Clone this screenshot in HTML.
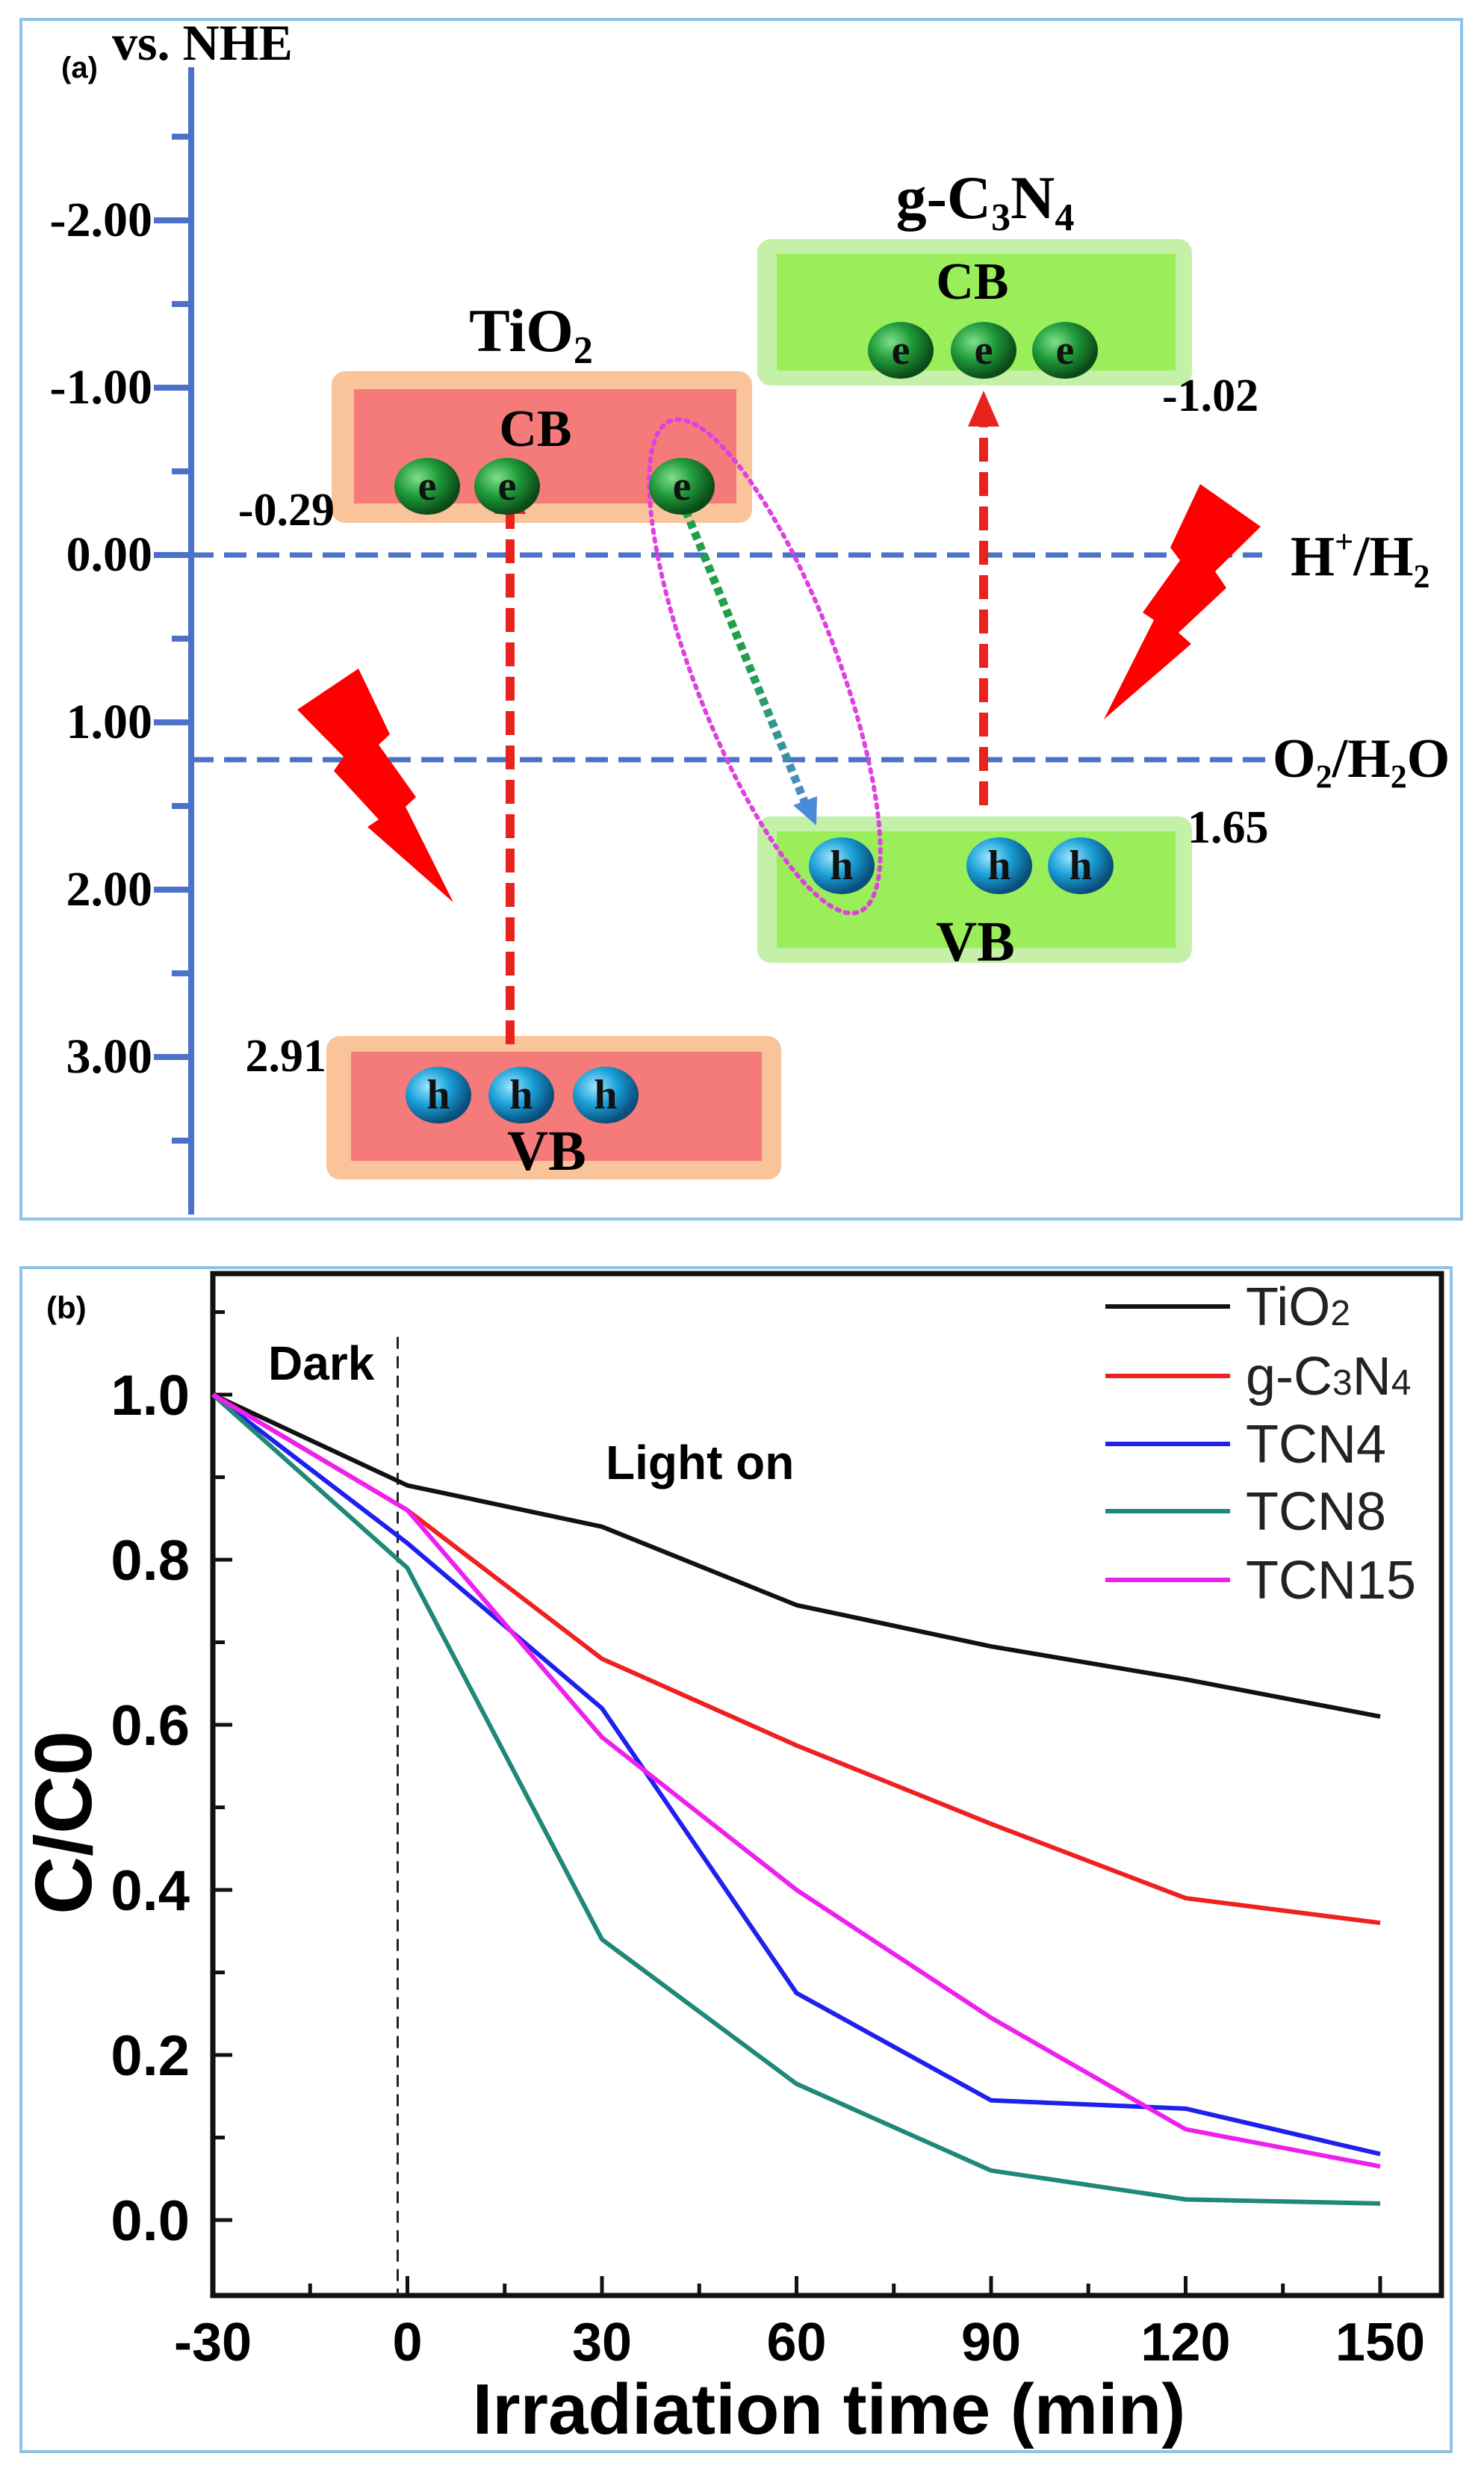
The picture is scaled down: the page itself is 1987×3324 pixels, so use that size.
<!DOCTYPE html>
<html><head><meta charset="utf-8"><style>
html,body{margin:0;padding:0;background:#fff}
svg{display:block}
.serif{font-family:"Liberation Serif",serif;font-weight:bold}
.sans{font-family:"Liberation Sans",sans-serif;font-weight:bold}
</style></head><body>
<svg id="fig" width="1987" height="3324" viewBox="0 0 1987 3324" xmlns="http://www.w3.org/2000/svg">
<defs>
<radialGradient id="gE" cx="35%" cy="35%" r="65%"><stop offset="0" stop-color="#7fe08a"/><stop offset="0.5" stop-color="#1f9a3a"/><stop offset="1" stop-color="#0b4a18"/></radialGradient>
<radialGradient id="gH" cx="35%" cy="35%" r="65%"><stop offset="0" stop-color="#9fe6ff"/><stop offset="0.5" stop-color="#1aa0d8"/><stop offset="1" stop-color="#0a4d7a"/></radialGradient>
<linearGradient id="gArrow" x1="0" y1="0" x2="0" y2="1"><stop offset="0" stop-color="#1fa04a"/><stop offset="0.5" stop-color="#1fa04a"/><stop offset="1" stop-color="#4a8ad8"/></linearGradient>
</defs>

<!-- Panel A -->
<g>
<rect x="28" y="26" width="1929" height="1606" fill="#fff" stroke="#8ec3e6" stroke-width="4"/>
<text x="82" y="104" class="sans" font-size="40">(a)</text>
<text x="150" y="80" class="serif" font-size="68">vs. NHE</text>
<line x1="256" y1="90" x2="256" y2="1626" stroke="#4a72c8" stroke-width="8"/>
<g id="aTicks"></g>

<line x1="256" y1="743" x2="1690" y2="743" stroke="#4a72c8" stroke-width="7" stroke-dasharray="30,14"/>
<text x="1728" y="770" class="serif" font-size="76" font-weight="normal">H<tspan font-size="44" dy="-30">+</tspan><tspan dy="30">/H</tspan><tspan font-size="44" dy="16">2</tspan></text>
<line x1="256" y1="1017" x2="1697" y2="1017" stroke="#4a72c8" stroke-width="7" stroke-dasharray="30,14"/>
<text x="1704" y="1040" class="serif" font-size="74" font-weight="normal">O<tspan font-size="44" dy="14">2</tspan><tspan dy="-14">/H</tspan><tspan font-size="44" dy="14">2</tspan><tspan dy="-14">O</tspan></text>

<rect x="444" y="497" width="563" height="203" rx="18" fill="#f9c49a"/>
<rect x="474" y="521" width="512" height="153" fill="#f57a7a"/>
<text x="717" y="597" text-anchor="middle" class="serif" font-size="70" font-weight="normal">CB</text>
<text x="711" y="470" text-anchor="middle" class="serif" font-size="82">TiO<tspan font-size="52" dy="16">2</tspan></text>
<text x="448" y="703" text-anchor="end" class="serif" font-size="62">-0.29</text>
<rect x="437" y="1387" width="609" height="192" rx="18" fill="#f9c49a"/>
<rect x="470" y="1408" width="550" height="146" fill="#f57a7a"/>
<text x="732" y="1566" text-anchor="middle" class="serif" font-size="76">VB</text>
<text x="437" y="1434" text-anchor="end" class="serif" font-size="62">2.91</text>
<rect x="1014" y="320" width="582" height="196" rx="18" fill="#c4f0a8"/>
<rect x="1040" y="340" width="534" height="156" fill="#99ee5a"/>
<text x="1302" y="400" text-anchor="middle" class="serif" font-size="70" font-weight="normal">CB</text>
<text x="1319" y="292" text-anchor="middle" class="serif" font-size="82">g-C<tspan font-size="52" dy="16">3</tspan><tspan dy="-16">N</tspan><tspan font-size="52" dy="16">4</tspan></text>
<text x="1556" y="550" class="serif" font-size="62">-1.02</text>
<rect x="1014" y="1093" width="582" height="196" rx="18" fill="#c4f0a8"/>
<rect x="1040" y="1113" width="534" height="156" fill="#99ee5a"/>
<text x="1306" y="1286" text-anchor="middle" class="serif" font-size="76">VB</text>
<text x="1590" y="1128" class="serif" font-size="62">1.65</text>

<line x1="683" y1="1398" x2="683" y2="680" stroke="#e8221c" stroke-width="12" stroke-dasharray="32,14"/>
<polygon points="683,640 662,688 704,688" fill="#e8221c"/>
<line x1="1317" y1="1078" x2="1317" y2="563" stroke="#e8221c" stroke-width="12" stroke-dasharray="32,14"/>
<polygon points="1317,523 1296,571 1338,571" fill="#e8221c"/>

<ellipse cx="1024" cy="892" rx="96" ry="352" transform="rotate(-21 1024 892)" fill="none" stroke="#e040e0" stroke-width="6" stroke-dasharray="4,8" stroke-linecap="round"/>
<line x1="918" y1="683" x2="1080" y2="1080" stroke="url(#gArrow)" stroke-width="11" stroke-dasharray="10,6"/>
<polygon points="1093,1105 1062,1078 1094,1066" fill="#4a8ad8"/>

<polygon points="480,895 398,950 460,1013 447,1032 507,1097 492,1107 607,1208 543,1080 557,1067 507,997 522,983" fill="#ff0000"/>
<polygon points="1607,648 1688,705 1627,765 1642,787 1578,847 1595,862 1478,963 1545,830 1530,820 1580,750 1567,733" fill="#ff0000"/>

<g id="particles"></g>
</g>

<!-- Panel B -->
<g>
<rect x="28" y="1697" width="1915" height="1585" fill="#fff" stroke="#8ec3e6" stroke-width="4"/>
<text x="62" y="1765" class="sans" font-size="42">(b)</text>
<g id="chart"></g>
</g>
</svg>
<script>
const NS='http://www.w3.org/2000/svg';
function mk(tag,attrs,parent,txt){const e=document.createElementNS(NS,tag);for(const k in attrs)e.setAttribute(k,attrs[k]);if(txt!==undefined)e.textContent=txt;parent.appendChild(e);return e;}

const potMajor=[-2,-1,0,1,2,3];
const potMinor=[-2.5,-1.5,-0.5,0.5,1.5,2.5,3.5];
const potLabels=['-2.00','-1.00','0.00','1.00','2.00','3.00'];
const pY=v=>743+v*224;
const at=document.getElementById('aTicks');
potMajor.forEach((v,i)=>{
  const l=mk('line',{x1:206,x2:256,y1:pY(v),y2:pY(v),stroke:'#4a72c8','stroke-width':8},at);
  
  
  const t=mk('text',{x:204,y:pY(v)+21,'text-anchor':'end','class':'serif','font-size':66},at,potLabels[i]);
  
  
});
potMinor.forEach(v=>{
  const l=mk('line',{x1:230,x2:256,y1:pY(v),y2:pY(v),stroke:'#4a72c8','stroke-width':8},at);
  
  
});
const pg=document.getElementById('particles');
const electrons=[[572,651],[679,651],[913,651],[1206,469],[1317,469],[1426,469]];
const holes=[[587,1466],[698,1466],[811,1466],[1127,1159],[1338,1159],[1447,1159]];
function particle(x,y,grad,ch,name){
  const g=mk('g',{},pg);
  
  
  mk('ellipse',{cx:x,cy:y,rx:44,ry:38,fill:grad},g);
  mk('text',{x:x,y:y+18,'text-anchor':'middle','class':'serif','font-size':56,fill:'#111'},g,ch);
}
electrons.forEach(p=>particle(p[0],p[1],'url(#gE)','e','electron'));
holes.forEach(p=>particle(p[0],p[1],'url(#gH)','h','hole'));

const times=[-30,0,30,60,90,120,150];
const seriesNames=['TiO2','g-C3N4','TCN4','TCN8','TCN15'];
const seriesColors=['#111111','#ee2020','#2020ee','#208878','#ee20ee'];
const tio2=[1.0,0.89,0.84,0.745,0.695,0.655,0.61];
const gcn=[1.0,0.86,0.68,0.575,0.48,0.39,0.36];
const tcn4=[1.0,0.82,0.62,0.275,0.145,0.135,0.08];
const tcn8=[1.0,0.79,0.34,0.165,0.06,0.025,0.02];
const tcn15=[1.0,0.86,0.585,0.40,0.245,0.11,0.065];
const xTicks=[-30,0,30,60,90,120,150];
const yTicks=[0,0.2,0.4,0.6,0.8,1.0];
const yTickLabels=['0.0','0.2','0.4','0.6','0.8','1.0'];
const allSeries=[tio2,gcn,tcn4,tcn8,tcn15];

const L=285,R=1930,T=1705,B=3073;
const X=t=>285+(t+30)*(1848-285)/180;
const Y=v=>2972-v*(2972-1867);
const ch=document.getElementById('chart');
const frame=mk('rect',{x:L,y:T,width:R-L,height:B-T,fill:'none',stroke:'#111','stroke-width':7},ch);


for(let t=-30;t<=150;t+=15){
  const major=(t%30===0);
  const l=mk('line',{x1:X(t),x2:X(t),y1:B,y2:B-(major?26:16),stroke:'#111','stroke-width':5},ch);
  
  
}
for(let k=0;k<=11;k++){
  const v=k/10;
  const l=mk('line',{x1:L,x2:L+(k%2===0?26:16),y1:Y(v),y2:Y(v),stroke:'#111','stroke-width':5},ch);
  
  
}
xTicks.forEach(t=>{
  const e=mk('text',{x:X(t),y:3160,'text-anchor':'middle','class':'sans','font-size':72},ch,String(t));
  
  
});
yTicks.forEach((v,i)=>{
  const e=mk('text',{x:254,y:Y(v)+27,'text-anchor':'end','class':'sans','font-size':76},ch,yTickLabels[i]);
  
  
});
const yt=mk('text',{x:0,y:0,'text-anchor':'middle','class':'sans','font-size':108,transform:'translate(122 2440) rotate(-90)'},ch,'C/C0');


const xt=mk('text',{x:1110,y:3258,'text-anchor':'middle','class':'sans','font-size':96},ch,'Irradiation time (min)');


const dl=mk('line',{x1:X(-1.5),x2:X(-1.5),y1:Y(1.07),y2:B,stroke:'#222','stroke-width':3,'stroke-dasharray':'16,10'},ch);


const dk=mk('text',{x:359,y:1847,'class':'sans','font-size':64},ch,'Dark');


const lo=mk('text',{x:811,y:1980,'class':'sans','font-size':64},ch,'Light on');



allSeries.forEach((s,i)=>{
  const pts=s.map((v,j)=>X(times[j])+','+Y(v)).join(' ');
  const p=mk('polyline',{points:pts,fill:'none',stroke:seriesColors[i],'stroke-width':6,'stroke-linejoin':'round'},ch);
  
  
});
const legY=[1749,1842,1933,2023,2115];
seriesNames.forEach((n,i)=>{
  const g=mk('g',{},ch);
  
  
  mk('line',{x1:1480,x2:1647,y1:legY[i],y2:legY[i],stroke:seriesColors[i],'stroke-width':6},g);
  const t=mk('text',{x:1668,y:legY[i]+25,'font-family':'"Liberation Sans",sans-serif','font-size':72,fill:'#222'},g);
  if(i===0){t.textContent='TiO';mk('tspan',{'font-size':48},t,'2');}
  else if(i===1){t.textContent='g-C';mk('tspan',{'font-size':48},t,'3');mk('tspan',{},t,'N');mk('tspan',{'font-size':48},t,'4');}
  else t.textContent=n;
});
</script>
</body></html>
